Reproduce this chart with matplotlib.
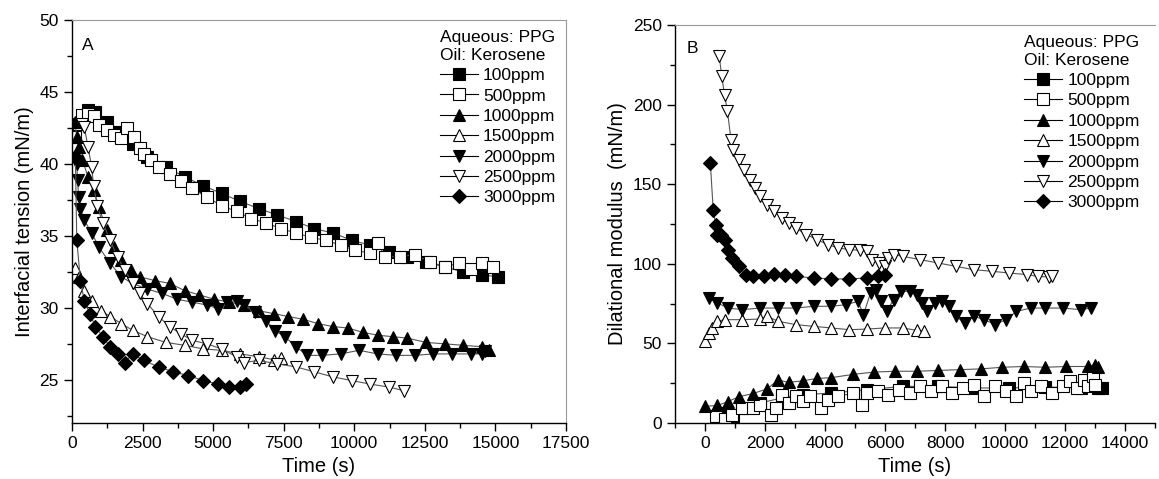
import matplotlib
matplotlib.use("Agg")
import matplotlib.pyplot as plt
from matplotlib.ticker import MultipleLocator
from matplotlib.lines import Line2D

plt.rcParams['font.family'] = ['Liberation Sans', 'DejaVu Sans']

labels = ['100ppm', '500ppm', '1000ppm', '1500ppm', '2000ppm', '2500ppm', '3000ppm']

# ---- panel A: interfacial tension (mN/m) vs time (s)
a100_t = [566, 830, 1224, 1620, 2145, 2670, 3330, 3990, 4645, 5300, 5960, 6620, 7280,
          7935, 8590, 9250, 9910, 10570, 11225, 11880, 12540, 13200, 13860, 14515, 15110]
a100_v = [43.75, 43.6, 42.9, 42.2, 41.4, 40.5, 39.8, 39.1, 38.5, 37.95, 37.4, 36.9, 36.45,
          36.0, 35.5, 35.2, 34.7, 34.35, 33.9, 33.55, 33.2, 32.85, 32.5, 32.3, 32.15]

a500_t = [105, 237, 370, 566, 763, 960, 1224, 1487, 1750, 1950, 2210, 2408, 2540, 2800,
          3066, 3460, 3856, 4250, 4777, 5300, 5830, 6356, 6880, 7410, 7935, 8460, 8990,
          9515, 10040, 10570, 10830, 11090, 11620, 12150, 12670, 13200, 13720, 14120,
          14515, 14900]
a500_v = [41.9, 42.8, 43.4, 43.5, 43.3, 42.7, 42.35, 42.0, 41.8, 42.5, 41.9, 41.1, 40.7, 40.3,
          39.8, 39.3, 38.8, 38.3, 37.7, 37.1, 36.7, 36.2, 35.9, 35.5, 35.2, 34.9, 34.7,
          34.35, 34.0, 33.8, 34.5, 33.55, 33.55, 33.7, 33.2, 32.85, 33.1, 32.7,
          33.1, 32.85]

a1000_t = [105, 170, 237, 370, 566, 763, 960, 1224, 1487, 1750, 2080, 2408, 2935, 3460,
           3990, 4515, 5040, 5565, 6090, 6620, 7145, 7670, 8200, 8725, 9250, 9780, 10300,
           10830, 11360, 11880, 12540, 13200, 13860, 14515, 14780]
a1000_v = [42.9, 41.9, 41.2, 40.3, 39.1, 38.2, 37.0, 35.4, 34.2, 33.3, 32.6, 32.15, 31.9, 31.7,
           31.2, 30.9, 30.6, 30.4, 30.2, 29.8, 29.6, 29.4, 29.2, 28.9, 28.7, 28.6, 28.3,
           28.1, 28.0, 27.9, 27.6, 27.5, 27.4, 27.3, 27.05]

a1500_t = [105, 237, 434, 700, 1025, 1355, 1750, 2145, 2670, 3330, 3990, 4645, 5300, 5960,
           6620, 7145, 7410]
a1500_v = [32.8, 32.15, 31.2, 30.5, 29.8, 29.4, 28.9, 28.45, 28.0, 27.6, 27.4, 27.15, 27.05,
           26.8, 26.6, 26.4, 26.5]

a2000_t = [170, 197, 237, 300, 434, 700, 960, 1355, 1750, 2145, 2670, 3200, 3724, 4250,
           4777, 5170, 5500, 5830, 6090, 6490, 6880, 7210, 7540, 7935, 8330, 8860, 9515,
           10170, 10830, 11490, 12150, 12800, 13460, 14120, 14515, 14650]
a2000_v = [40.0, 38.9, 37.7, 36.9, 36.1, 35.2, 34.2, 33.1, 32.15, 31.7, 31.3, 31.0, 30.6, 30.4,
           30.2, 29.95, 30.4, 30.5, 30.2, 29.7, 29.1, 28.4, 28.0, 27.3, 26.7, 26.7, 26.8,
           27.05, 26.8, 26.7, 26.7, 26.8, 26.8, 26.8, 26.8, 27.0]

a2500_t = [370, 434, 566, 700, 763, 895, 1090, 1355, 1620, 1880, 2145, 2408, 2670, 3066,
           3460, 3856, 4250, 4777, 5300, 5830, 6090, 6620, 7280, 7935, 8590, 9250, 9910,
           10570, 11225, 11750]
a2500_v = [42.8, 42.6, 41.2, 39.8, 38.5, 37.1, 35.9, 34.7, 33.5, 32.6, 31.7, 31.0, 30.3, 29.4,
           28.7, 28.2, 27.75, 27.5, 27.15, 26.6, 26.2, 26.35, 26.1, 25.9, 25.55, 25.2, 24.95,
           24.7, 24.5, 24.25]

a3000_t = [120, 170, 300, 434, 630, 830, 1090, 1355, 1620, 1880, 2145, 2540, 3066, 3590,
           4120, 4645, 5170, 5565, 5960, 6160]
a3000_v = [40.5, 34.7, 31.9, 30.5, 29.6, 28.7, 28.0, 27.3, 26.8, 26.2, 26.8, 26.35, 25.9, 25.55,
           25.3, 24.95, 24.7, 24.5, 24.5, 24.7]

# ---- panel B: dilational modulus (mN/m) vs time (s)
b100_t = [593, 949, 1246, 1839, 2551, 3263, 4212, 5398, 6584, 7770, 8956, 10143, 11330,
          12516, 13110, 13230]
b100_v = [6.3, 1.7, 9.4, 12.6, 15.7, 17.8, 18.8, 20.9, 23.0, 23.0, 22.0, 22.0, 22.6,
          22.0, 22.0, 22.0]

b500_t = [356, 653, 890, 1246, 1602, 1839, 2195, 2373, 2551, 2788, 3025, 3263, 3500, 3856,
          4093, 4449, 4924, 5220, 5398, 5754, 6110, 6466, 6822, 7177, 7533, 7890, 8245,
          8601, 8956, 9313, 9669, 10025, 10381, 10618, 10855, 11211, 11568, 11923, 12160,
          12398, 12635, 12754, 12932, 12991]
b500_v = [4.2, 2.5, 5.2, 9.4, 9.4, 11.5, 5.2, 9.4, 17.8, 12.6, 16.8, 13.6, 16.8, 9.4,
          14.7, 16.8, 18.8, 11.5, 18.8, 19.9, 17.8, 20.9, 18.8, 23.0, 19.9, 23.0, 18.8,
          22.0, 24.1, 16.8, 23.0, 19.9, 16.8, 25.1, 19.9, 23.0, 18.8, 23.0, 26.2,
          22.0, 27.2, 23.0, 29.3, 24.1]

b1000_t = [0, 415, 771, 1127, 1602, 2076, 2432, 2788, 3263, 3737, 4212, 4924, 5635, 6347,
           7059, 7770, 8483, 9195, 9906, 10618, 11330, 12042, 12754, 12991, 13100]
b1000_v = [10.5, 11.0, 13.5, 16.5, 18.5, 21.5, 27.0, 25.5, 26.5, 28.0, 28.5, 30.5, 32.0, 32.5,
           32.5, 33.0, 33.5, 34.0, 35.0, 35.5, 35.0, 35.5, 35.5, 36.5, 35.0]

b1500_t = [0, 119, 237, 415, 653, 1246, 1839, 2076, 2432, 3025, 3618, 4212, 4805, 5398,
           5991, 6584, 7059, 7296]
b1500_v = [51.3, 56.5, 59.7, 63.9, 64.9, 64.9, 65.3, 67.0, 63.9, 61.8, 60.7, 59.7, 58.6, 59.0,
           59.7, 59.7, 58.2, 57.6]

b2000_t = [119, 415, 771, 1246, 1839, 2432, 3025, 3618, 4212, 4686, 5102, 5280, 5517, 5695,
           5873, 6050, 6288, 6525, 6822, 7059, 7237, 7415, 7652, 7890, 8127, 8363, 8660,
           8956, 9313, 9669, 10025, 10381, 10855, 11330, 11923, 12516, 12872]
b2000_v = [78.5, 75.4, 72.2, 71.2, 72.2, 72.2, 72.2, 73.3, 73.3, 74.3, 76.4, 68.0, 81.7, 83.8,
           76.4, 70.1, 77.5, 82.7, 82.7, 80.6, 75.4, 70.1, 75.4, 76.4, 73.3, 67.0, 62.8,
           67.0, 64.9, 61.8, 64.9, 70.1, 72.2, 72.2, 72.2, 71.2, 72.2]

b2500_t = [475, 558, 650, 747, 866, 949, 1127, 1305, 1483, 1661, 1839, 2076, 2313, 2551,
           2788, 3025, 3381, 3737, 4093, 4449, 4805, 5161, 5398, 5576, 5813, 5991, 6110,
           6288, 6584, 7177, 7770, 8363, 8956, 9550, 10143, 10736, 11093, 11449, 11568]
b2500_v = [230.3, 217.8, 206.2, 195.8, 178.0, 171.7, 165.4, 159.1, 152.8, 147.6, 142.4, 137.1,
           133.0, 128.8, 125.6, 122.5, 118.3, 115.2, 112.0, 109.9, 108.9, 108.5, 107.8, 102.6,
           100.5, 98.4, 103.6, 105.7, 104.7, 102.6, 100.5, 98.4, 96.3, 95.3, 94.2, 93.2,
           92.1, 91.7, 92.1]

b3000_t = [178, 273, 356, 392, 534, 653, 771, 890, 1127, 1364, 1602, 1958, 2313, 2669,
           3025, 3618, 4212, 4805, 5398, 5754, 5991]
b3000_v = [163.3, 134.0, 124.6, 118.3, 118.3, 115.2, 108.9, 103.6, 98.4, 93.2, 92.1, 92.5,
           93.8, 93.0, 92.1, 91.1, 90.5, 90.5, 91.1, 92.1, 93.2]

styles = [('s', 'black'), ('s', 'white'), ('^', 'black'), ('^', 'white'),
          ('v', 'black'), ('v', 'white'), ('D', 'black')]

series_a = [(a100_t, a100_v), (a500_t, a500_v), (a1000_t, a1000_v), (a1500_t, a1500_v),
            (a2000_t, a2000_v), (a2500_t, a2500_v), (a3000_t, a3000_v)]
series_b = [(b100_t, b100_v), (b500_t, b500_v), (b1000_t, b1000_v), (b1500_t, b1500_v),
            (b2000_t, b2000_v), (b2500_t, b2500_v), (b3000_t, b3000_v)]

fig = plt.figure(figsize=(11.59, 4.79), dpi=100)
axA = fig.add_axes([0.0621, 0.1169, 0.4262, 0.8413])
axB = fig.add_axes([0.5824, 0.1169, 0.4142, 0.8310])


def msize(m):
    return 7.5 if m == 'D' else 8.5


def draw(ax, series):
    for (t, v), (m, fc), lab in zip(series, styles, labels):
        ax.plot(t, v, color='#555555', lw=0.8, marker=m, ms=msize(m), mfc=fc, mec='black',
                mew=0.8, label=lab)


def style(ax):
    for s in ['top', 'right']:
        ax.spines[s].set_color('#999999')
        ax.spines[s].set_linewidth(0.8)
    for s in ['left', 'bottom']:
        ax.spines[s].set_linewidth(1.0)
    ax.tick_params(which='both', direction='out', top=False, right=False, labelsize=12.5)
    ax.tick_params(which='major', length=6, width=1)
    ax.tick_params(which='minor', length=3.5, width=1)


def legend(ax, anchor):
    handles = [Line2D([], [], color='black', lw=0.8, marker=m, ms=msize(m),
                      mfc=fc, mec='black', mew=0.8) for m, fc in styles]
    lg = ax.legend(handles, labels, title='Aqueous: PPG\nOil: Kerosene', loc='upper right',
                   bbox_to_anchor=anchor, frameon=False, fontsize=12.5, title_fontsize=12.5,
                   alignment='left', handlelength=2.2, handletextpad=0.3, labelspacing=0.3,
                   borderaxespad=0.2)
    lg.get_title().set_linespacing(1.2)


draw(axA, series_a)
axA.set_xlim(0, 17500)
axA.set_ylim(22, 50)
axA.xaxis.set_major_locator(MultipleLocator(2500))
axA.xaxis.set_minor_locator(MultipleLocator(1250))
axA.yaxis.set_major_locator(MultipleLocator(5))
axA.yaxis.set_minor_locator(MultipleLocator(2.5))
axA.set_xlabel('Time (s)', fontsize=14.5)
axA.set_ylabel('Interfacial tension (mN/m)', fontsize=14.5)
axA.text(0.02, 0.955, 'A', transform=axA.transAxes, fontsize=12.5, va='top')
style(axA)
legend(axA, (1.0, 1.0))

draw(axB, series_b)
axB.set_xlim(-1000, 15000)
axB.set_ylim(0, 250)
axB.set_xticks([0, 2000, 4000, 6000, 8000, 10000, 12000, 14000])
axB.xaxis.set_minor_locator(MultipleLocator(1000))
axB.yaxis.set_major_locator(MultipleLocator(50))
axB.yaxis.set_minor_locator(MultipleLocator(25))
axB.set_xlabel('Time (s)', fontsize=14.5)
axB.set_ylabel('Dilational modulus  (mN/m)', fontsize=14.5)
axB.text(0.025, 0.96, 'B', transform=axB.transAxes, fontsize=12.5, va='top')
style(axB)
axB.spines['right'].set_visible(False)
legend(axB, (0.99, 1.0))

fig.savefig('out.png', dpi=100)
